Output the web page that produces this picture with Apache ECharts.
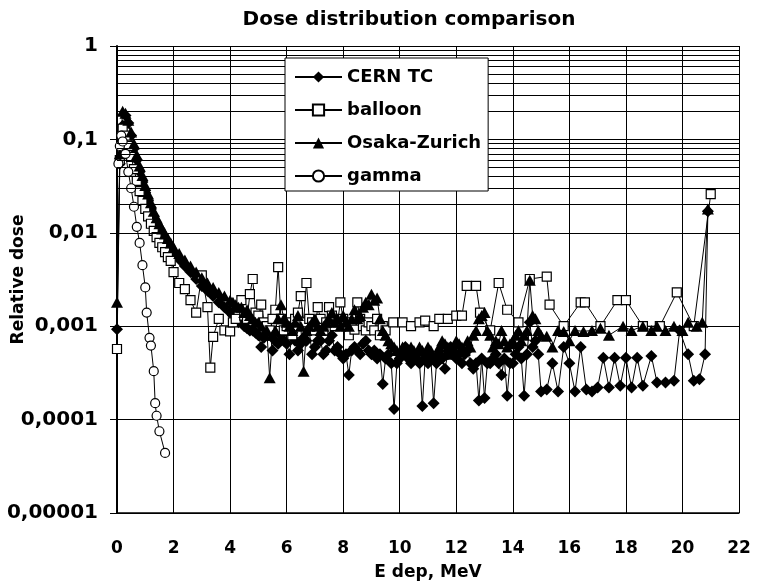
<!DOCTYPE html>
<html>
<head>
<meta charset="utf-8">
<title>Dose distribution comparison</title>
<script src="https://cdn.jsdelivr.net/npm/echarts@6/dist/echarts.min.js"></script>
<style>
  html, body { margin: 0; padding: 0; background: #fff; }
  #chart { width: 762px; height: 581px; }
</style>
</head>
<body>
<div id="chart"></div>
<script>
// Deposited energy (MeV) and relative dose per detector / source
const cernE = [0,0.1,0.2,0.3,0.4,0.5,0.6,0.7,0.8,0.9,1.0,1.1,1.2,1.3,1.4,1.5,1.6,1.7,1.8,1.9,2.0,2.2,2.4,2.6,2.8,3.0,3.2,3.4,3.6,3.8,
  4.0,4.1,4.2,4.3,4.4,4.5,4.6,4.7,4.8,4.9,5.0,5.1,5.2,5.3,5.4,5.5,5.6,5.7,5.8,5.9,6.0,6.1,6.2,6.3,6.4,6.5,6.6,6.7,6.8,6.9,
  7.0,7.1,7.2,7.3,7.4,7.5,7.6,7.7,7.8,7.9,8.0,8.1,8.2,8.3,8.4,8.5,8.6,8.7,8.8,8.9,9.0,9.1,9.2,9.3,9.4,9.5,9.6,9.7,9.8,9.9,
  10.0,10.1,10.2,10.3,10.4,10.5,10.6,10.7,10.8,10.9,11.0,11.1,11.2,11.3,11.4,11.5,11.6,11.7,11.8,11.9,12.0,12.1,12.2,12.3,12.4,12.5,12.6,12.7,12.8,12.9,
  13.0,13.1,13.2,13.3,13.4,13.5,13.6,13.7,13.8,13.9,14.0,14.1,14.2,14.3,14.4,14.5,14.6,14.7,14.8,14.9,
  15.0,15.2,15.4,15.6,15.8,16.0,16.2,16.4,16.6,16.8,17.0,17.2,17.4,17.6,17.8,18.0,18.2,18.4,18.6,18.9,19.1,19.4,19.7,19.9,20.2,20.4,20.6,20.8,20.9];
const cernDose = [0.00093,0.055,0.14,0.18,0.15,0.11,0.08,0.06,0.045,0.035,0.027,0.022,0.018,0.015,0.0125,0.011,0.0095,0.0085,0.0075,0.0068,0.006,0.0052,0.0044,0.0038,0.0032,0.0027,0.0024,0.0021,0.0018,0.0016,
  0.0014,0.0013,0.0012,0.0011,0.0011,0.001,0.00095,0.0009,0.0009,0.00085,0.0008,0.0006,0.00075,0.00085,0.0009,0.00055,0.0007,0.00065,0.0008,0.0007,0.00065,0.0005,0.00085,0.0007,0.00055,0.00065,0.00075,0.0007,0.0009,0.0005,
  0.0006,0.0007,0.0007,0.0005,0.00055,0.0007,0.0008,0.00055,0.0006,0.0005,0.00045,0.0005,0.0003,0.00055,0.0006,0.00055,0.0005,0.00065,0.0007,0.00055,0.0005,0.00055,0.00045,0.0005,0.00024,0.00045,0.0005,0.0004,0.00013,0.0004,
  0.00045,0.0005,0.0006,0.00045,0.0004,0.00045,0.0005,0.0004,0.00014,0.00045,0.0004,0.00045,0.00015,0.0004,0.0005,0.00045,0.00035,0.0005,0.0006,0.0005,0.00045,0.0005,0.0004,0.0005,0.00055,0.0004,0.00035,0.0004,0.00016,0.00045,
  0.00017,0.0004,0.0004,0.00045,0.0005,0.0004,0.0003,0.00045,0.00018,0.0004,0.0004,0.0005,0.0006,0.00045,0.00018,0.0005,0.0011,0.0006,0.0007,0.0005,
  0.0002,0.00021,0.0004,0.0002,0.0006,0.0004,0.0002,0.0006,0.00021,0.0002,0.00022,0.00046,0.00022,0.00046,0.00023,0.00046,0.00022,0.00046,0.00023,0.00048,0.00025,0.00025,0.00026,0.0009,0.0005,0.00026,0.00027,0.0005,0.017];

const balloonE = [0,0.1,0.2,0.3,0.4,0.5,0.6,0.7,0.8,0.9,1.0,1.1,1.2,1.3,1.4,1.5,1.6,1.7,1.8,1.9,2.0,2.2,2.4,2.6,2.8,3.0,3.2,3.3,3.4,3.6,3.8,
  4.0,4.1,4.2,4.3,4.4,4.5,4.6,4.7,4.8,4.9,5.0,5.1,5.2,5.3,5.4,5.5,5.6,5.7,5.8,5.9,6.0,6.1,6.2,6.3,6.4,6.5,6.6,6.7,6.8,6.9,
  7.0,7.1,7.2,7.3,7.4,7.5,7.6,7.7,7.8,7.9,8.0,8.1,8.2,8.3,8.4,8.5,8.6,8.7,8.8,8.9,9.0,9.1,9.2,9.3,9.4,9.5,9.77,
  10.1,10.4,10.7,10.9,11.2,11.4,11.7,12.0,12.2,12.37,12.7,12.84,13.2,13.5,13.8,14.2,14.6,15.2,15.3,15.8,16.4,16.55,17.1,17.7,18.0,18.6,19.2,19.8,20.4,21.0];
const balloonDose = [0.00057,0.06,0.13,0.11,0.085,0.065,0.048,0.036,0.028,0.022,0.018,0.015,0.0125,0.0105,0.009,0.0078,0.007,0.0062,0.0055,0.005,0.0038,0.0029,0.0025,0.0019,0.0014,0.0035,0.0016,0.00036,0.00077,0.0012,0.0009,
  0.00088,0.0011,0.0012,0.0015,0.0019,0.0013,0.0012,0.0022,0.0032,0.0014,0.0013,0.0017,0.0011,0.001,0.0009,0.0012,0.0015,0.0043,0.0012,0.0009,0.001,0.0011,0.0008,0.0012,0.0014,0.0021,0.0011,0.0029,0.0012,0.0011,
  0.0009,0.0016,0.0012,0.0009,0.0011,0.0016,0.0013,0.001,0.0011,0.0018,0.0012,0.001,0.0008,0.0011,0.00092,0.0018,0.0012,0.001,0.0009,0.0011,0.001,0.0009,0.0012,0.0008,0.001,0.0009,0.0011,
  0.0011,0.001,0.0011,0.00115,0.001,0.0012,0.0012,0.0013,0.0013,0.0027,0.0027,0.0014,0.0009,0.0029,0.0015,0.0011,0.0032,0.0034,0.0017,0.001,0.0018,0.0018,0.001,0.0019,0.0019,0.001,0.001,0.0023,0.001,0.026];

const osakaE = [0,0.1,0.2,0.3,0.4,0.5,0.6,0.7,0.8,0.9,1.0,1.1,1.2,1.3,1.4,1.5,1.6,1.7,1.8,1.9,2.0,2.2,2.4,2.6,2.8,3.0,3.2,3.4,3.6,3.8,
  4.0,4.1,4.2,4.3,4.4,4.5,4.6,4.7,4.8,4.9,5.0,5.1,5.2,5.3,5.4,5.5,5.6,5.7,5.8,5.9,6.0,6.1,6.2,6.3,6.4,6.5,6.6,6.7,6.8,6.9,
  7.0,7.1,7.2,7.3,7.4,7.5,7.6,7.7,7.8,7.9,8.0,8.1,8.2,8.3,8.4,8.5,8.6,8.7,8.8,8.9,9.0,9.1,9.2,9.3,9.4,9.5,9.6,9.7,9.8,9.9,
  10.0,10.1,10.2,10.3,10.4,10.5,10.6,10.7,10.8,10.9,11.0,11.1,11.2,11.3,11.4,11.5,11.6,11.7,11.8,11.9,
  12.0,12.1,12.2,12.3,12.4,12.5,12.6,12.7,12.8,12.9,13.0,13.1,13.2,13.3,13.4,13.5,13.6,13.7,13.8,13.9,14.0,14.1,14.2,14.3,14.4,14.5,14.6,14.7,14.8,14.9,
  15.0,15.2,15.4,15.6,15.8,16.0,16.2,16.5,16.8,17.1,17.4,17.9,18.2,18.6,18.9,19.1,19.4,19.7,20.0,20.2,20.5,20.7,20.9];
const osakaDose = [0.0018,0.07,0.2,0.19,0.16,0.12,0.09,0.068,0.052,0.041,0.032,0.026,0.021,0.017,0.0145,0.0125,0.011,0.0097,0.0087,0.0078,0.007,0.006,0.0051,0.0044,0.0038,0.0033,0.0029,0.0026,0.0023,0.0021,
  0.0019,0.0018,0.0017,0.0016,0.0016,0.0014,0.0015,0.0013,0.0012,0.0011,0.0011,0.001,0.0008,0.0009,0.00028,0.0008,0.0009,0.0012,0.0017,0.0012,0.0011,0.001,0.0009,0.0011,0.0013,0.001,0.00033,0.0009,0.001,0.0011,
  0.0012,0.001,0.0009,0.001,0.0011,0.0012,0.0014,0.0011,0.0012,0.001,0.0013,0.0011,0.001,0.0012,0.0015,0.0012,0.0013,0.0016,0.0018,0.0017,0.0022,0.0019,0.002,0.0012,0.0009,0.0008,0.0007,0.00065,0.0006,0.00055,
  0.0005,0.0006,0.00055,0.0005,0.0006,0.00055,0.0005,0.0006,0.00055,0.0005,0.0006,0.00055,0.00045,0.0005,0.0006,0.0007,0.00065,0.0006,0.0005,0.0006,
  0.0007,0.00065,0.0006,0.00055,0.0007,0.0006,0.0008,0.0009,0.0012,0.0013,0.0014,0.0009,0.0008,0.0006,0.0007,0.00065,0.0009,0.0007,0.0006,0.00065,0.0007,0.0008,0.0009,0.0007,0.0008,0.0009,0.0031,0.0013,0.0012,0.0009,
  0.0008,0.00078,0.0006,0.0009,0.00088,0.0007,0.0009,0.00088,0.0009,0.00095,0.0008,0.001,0.0009,0.001,0.0009,0.001,0.0009,0.001,0.0009,0.0011,0.001,0.0011,0.018];

const gammaE = [0.05,0.1,0.15,0.2,0.3,0.4,0.5,0.6,0.7,0.8,0.9,1.0,1.05,1.15,1.2,1.3,1.35,1.4,1.5,1.7];
const gammaDose = [0.055,0.085,0.11,0.095,0.07,0.045,0.03,0.019,0.0116,0.0078,0.0045,0.0026,0.0014,0.00075,0.00062,0.00033,0.00015,0.00011,0.000075,0.000044];

const seriesNames = ['CERN TC', 'balloon', 'Osaka-Zurich', 'gamma'];
const energyTicks = { min: 0, max: 22, step: 2 };
const doseTickLabels = ['0,00001', '0,0001', '0,001', '0,01', '0,1', '1'];

const FONT = 'DejaVu Sans';

function pairs(xs, ys) {
  return xs.map((x, i) => [x, ys[i]]);
}

// Minor log gridlines at 2..9 within each decade
const minorGrid = [];
for (let d = -5; d < 0; d++) {
  for (let k = 2; k <= 9; k++) minorGrid.push({ yAxis: k * Math.pow(10, d) });
}

const solidMarker = { color: '#000' };
const hollowMarker = { color: '#fff', borderColor: '#000', borderWidth: 1.2 };
const thinLine = { color: '#000', width: 1 };

function seriesOf(name, xs, ys, symbol, size, itemStyle) {
  return {
    name: name,
    type: 'line',
    data: pairs(xs, ys),
    symbol: symbol,
    symbolSize: size,
    showSymbol: true,
    showAllSymbol: true,
    itemStyle: itemStyle,
    lineStyle: thinLine,
    emphasis: { disabled: true },
    z: 3
  };
}

const chart = echarts.init(document.getElementById('chart'), null, { renderer: 'canvas' });

chart.setOption({
  animation: false,
  backgroundColor: '#fff',
  title: {
    text: 'Dose distribution comparison',
    left: 404,
    top: 5,
    textAlign: 'center',
    textStyle: { fontFamily: FONT, fontWeight: 'bold', fontSize: 20, color: '#000' }
  },
  legend: {
    data: seriesNames,
    orient: 'vertical',
    left: 285,
    top: 58,
    padding: [10, 7, 6, 9],
    itemGap: 15,
    itemWidth: 47,
    itemHeight: 14,
    backgroundColor: '#fff',
    borderColor: '#000',
    borderWidth: 1,
    borderRadius: 0,
    selectedMode: false,
    textStyle: { fontFamily: FONT, fontWeight: 'bold', fontSize: 18, color: '#000' },
    z: 10
  },
  grid: { left: 117, right: 23, top: 46, bottom: 68, containLabel: false, outerBoundsMode: 'none' },
  xAxis: {
    type: 'value',
    min: energyTicks.min,
    max: energyTicks.max,
    interval: energyTicks.step,
    name: 'E dep, MeV',
    nameLocation: 'middle',
    nameGap: 51,
    nameMoveOverlap: false,
    nameTextStyle: { fontFamily: FONT, fontWeight: 'bold', fontSize: 17, color: '#000' },
    axisLine: { show: true, onZero: false, lineStyle: { color: '#000', width: 1.5 } },
    axisTick: { show: false },
    axisLabel: { margin: 27, fontFamily: FONT, fontWeight: 'bold', fontSize: 17, color: '#000' },
    splitLine: { show: true, lineStyle: { color: '#000', width: 1 } }
  },
  yAxis: {
    type: 'log',
    logBase: 10,
    min: 0.00001,
    max: 1,
    name: 'Relative dose',
    nameLocation: 'middle',
    nameGap: 90,
    nameMoveOverlap: false,
    nameTextStyle: { fontFamily: FONT, fontWeight: 'bold', fontSize: 17, color: '#000' },
    axisLine: { show: true, onZero: false, lineStyle: { color: '#000', width: 2 } },
    axisTick: { show: true, inside: false, length: 7, lineStyle: { color: '#000', width: 1 } },
    axisLabel: {
      margin: 19,
      fontFamily: FONT, fontWeight: 'bold', fontSize: 20, color: '#000',
      formatter: v => doseTickLabels[Math.round(Math.log10(v)) + 5]
    },
    splitLine: { show: true, lineStyle: { color: '#000', width: 1 } }
  },
  series: [
    {
      name: 'minor-grid',
      type: 'line',
      data: [],
      silent: true,
      z: 1,
      markLine: {
        silent: true,
        symbol: ['none', 'none'],
        label: { show: false },
        lineStyle: { color: '#000', width: 1, type: 'solid' },
        emphasis: { disabled: true },
        animation: false,
        data: minorGrid
      }
    },
    seriesOf('CERN TC', cernE, cernDose, 'diamond', [12, 12], solidMarker),
    seriesOf('balloon', balloonE, balloonDose, 'rect', [9, 9], hollowMarker),
    seriesOf('Osaka-Zurich', osakaE, osakaDose, 'triangle', [12, 11], solidMarker),
    seriesOf('gamma', gammaE, gammaDose, 'circle', [9, 9], hollowMarker)
  ]
});
</script>
</body>
</html>
